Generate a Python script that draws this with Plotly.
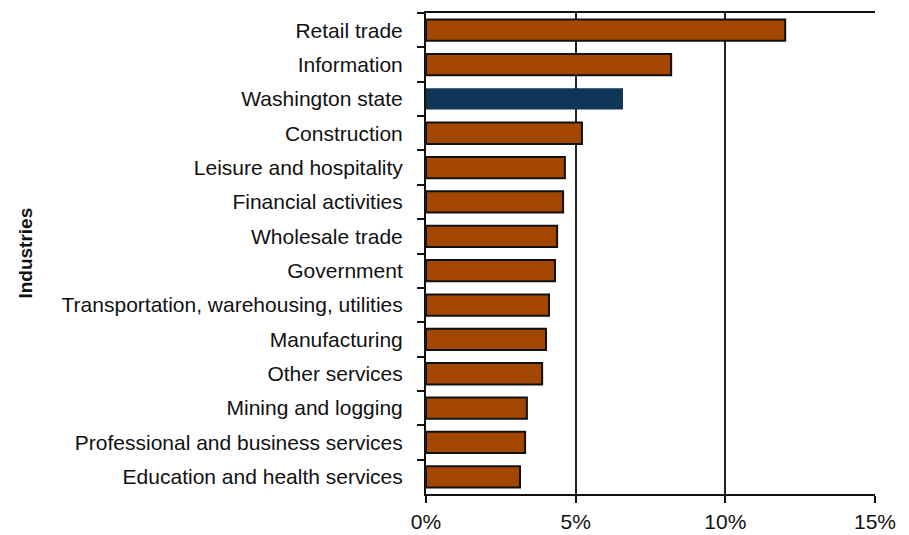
import plotly.graph_objects as go

industries = ["Retail trade", "Information", "Washington state", "Construction",
              "Leisure and hospitality", "Financial activities", "Wholesale trade",
              "Government", "Transportation, warehousing, utilities", "Manufacturing",
              "Other services", "Mining and logging", "Professional and business services",
              "Education and health services"]
values = [12.0, 8.19, 6.58, 5.21, 4.64, 4.58, 4.38, 4.31, 4.11, 4.01, 3.88, 3.37, 3.31, 3.14]

colors = ["#0F3557" if n == "Washington state" else "#A34700" for n in industries]
line_w = [0 if n == "Washington state" else 2 for n in industries]

FONT = "Liberation Sans, Arial, sans-serif"

fig = go.Figure(go.Bar(
    x=[v / 100 for v in values], y=industries, orientation="h",
    marker=dict(color=colors, line=dict(color="#111111", width=line_w)),
    width=0.62,
))

fig.update_layout(
    width=909, height=535,
    margin=dict(l=426, r=34, t=13, b=41),
    plot_bgcolor="white", paper_bgcolor="white",
    font=dict(family=FONT, size=21, color="#111111"),
    showlegend=False,
)
fig.update_xaxes(
    range=[0, 0.15], tickvals=[0, 0.05, 0.10, 0.15], tickformat=".0%",
    showgrid=True, gridcolor="#222222", gridwidth=1.5,
    showline=True, linecolor="#111111", linewidth=2, mirror=True,
    ticks="outside", ticklen=7, tickcolor="#111111", tickwidth=1.5,
    ticklabelstandoff=1, automargin=False,
    zeroline=False, fixedrange=True,
)
fig.update_yaxes(
    autorange="reversed", type="category",
    showline=True, linecolor="#111111", linewidth=2,
    ticks="outside", tickson="boundaries", ticklen=7, tickcolor="#111111", tickwidth=1.5,
    ticklabelstandoff=17, automargin=False,
    showgrid=False,
)
fig.add_annotation(
    text="<b>Industries</b>", textangle=-90, showarrow=False,
    xref="paper", yref="paper", x=-0.893, y=0.5, xanchor="center", yanchor="middle",
    font=dict(size=19, family=FONT, color="#111111"),
)
fig.write_html("out.html")
